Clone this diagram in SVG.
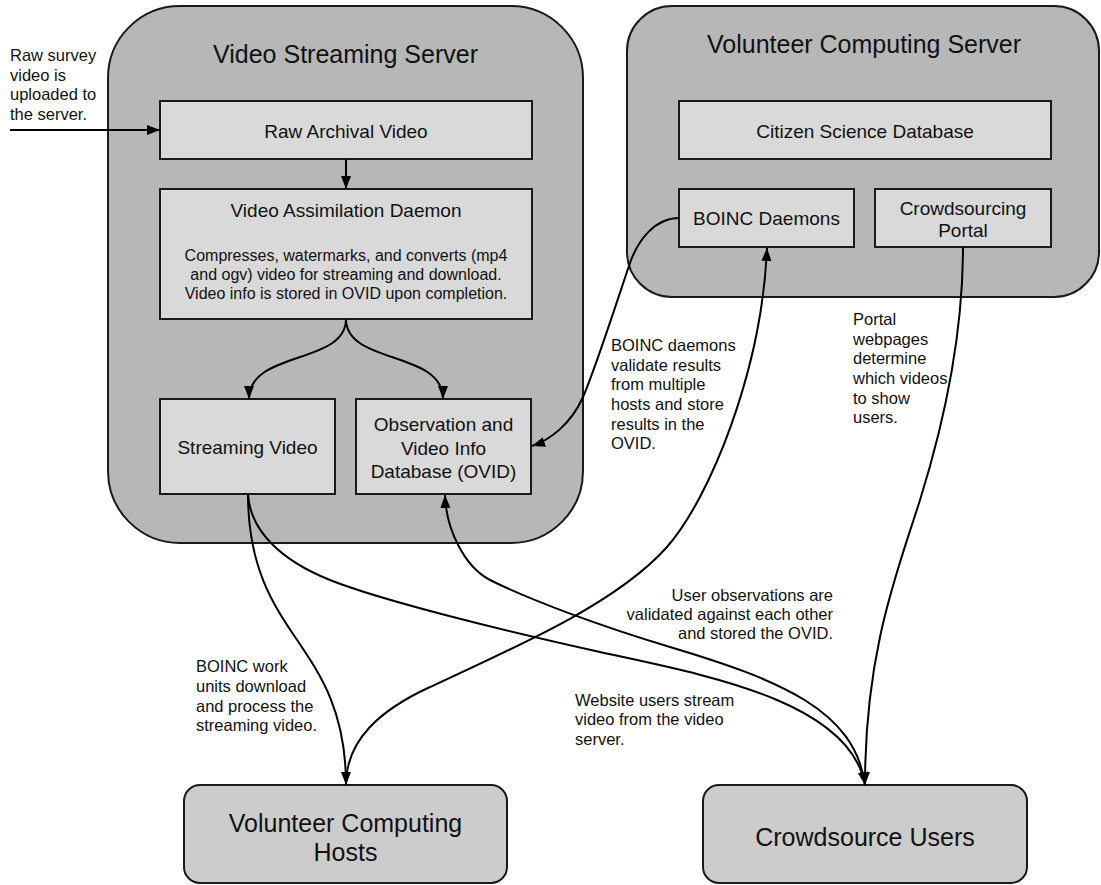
<svg xmlns="http://www.w3.org/2000/svg" width="1101" height="885" viewBox="0 0 1101 885">
<style>
.server{fill:#b7b7b7;stroke:#1a1a1a;stroke-width:2}
.box{fill:#d9d9d9;stroke:#1a1a1a;stroke-width:2}
.ext{fill:#cccccc;stroke:#1a1a1a;stroke-width:2}
.conn{fill:none;stroke:#000;stroke-width:2}
text{font-family:"Liberation Sans",Arial,sans-serif;fill:#111}
.t25{font-size:25px}
.t19{font-size:19px}
.t16{font-size:16px}
.lbl{font-size:16.5px}
.c{text-anchor:middle}
.r{text-anchor:end}
</style>
<defs>
<marker id="arr" markerUnits="userSpaceOnUse" markerWidth="14" markerHeight="12" refX="13" refY="6" orient="auto">
<path d="M0,1 L13,6 L0,11 z" fill="#000"/>
</marker>
</defs>
<rect width="1101" height="885" fill="#fff"/>
<g id="video-streaming-server">
<rect class="server" x="108" y="6" width="475" height="537" rx="72"/>
<text class="t25 c" x="345.5" y="63">Video Streaming Server</text>
</g>
<g id="volunteer-computing-server">
<rect class="server" x="627" y="6" width="472" height="291" rx="45"/>
<text class="t25 c" x="864" y="53">Volunteer Computing Server</text>
</g>
<g id="raw-archival-video">
<rect class="box" x="160" y="101" width="372" height="58"/>
<text class="t19 c" x="346" y="138">Raw Archival Video</text>
</g>
<g id="video-assimilation-daemon">
<rect class="box" x="160" y="189" width="372" height="130"/>
<text class="t19 c" x="346" y="217">Video Assimilation Daemon</text>
<text class="t16 c" x="346" y="261">Compresses, watermarks, and converts (mp4</text>
<text class="t16 c" x="346" y="280">and ogv) video for streaming and download.</text>
<text class="t16 c" x="346" y="299">Video info is stored in OVID upon completion.</text>
</g>
<g id="streaming-video">
<rect class="box" x="160" y="399" width="175" height="95"/>
<text class="t19 c" x="247.5" y="454">Streaming Video</text>
</g>
<g id="ovid">
<rect class="box" x="356" y="399" width="175" height="95"/>
<text class="t19 c" x="443.5" y="431">Observation and</text>
<text class="t19 c" x="443.5" y="455">Video Info</text>
<text class="t19 c" x="443.5" y="478">Database (OVID)</text>
</g>
<g id="citizen-science-database">
<rect class="box" x="679" y="101" width="372" height="58"/>
<text class="t19 c" x="865" y="138">Citizen Science Database</text>
</g>
<g id="boinc-daemons">
<rect class="box" x="679" y="189" width="175" height="58"/>
<text class="t19 c" x="766.5" y="225">BOINC Daemons</text>
</g>
<g id="crowdsourcing-portal">
<rect class="box" x="875" y="189" width="176" height="58"/>
<text class="t19 c" x="963" y="215">Crowdsourcing</text>
<text class="t19 c" x="963" y="237">Portal</text>
</g>
<g id="volunteer-computing-hosts">
<rect class="ext" x="184" y="785" width="323" height="98" rx="16"/>
<text class="t25 c" x="345.5" y="832">Volunteer Computing</text>
<text class="t25 c" x="345.5" y="861">Hosts</text>
</g>
<g id="crowdsource-users">
<rect class="ext" x="703" y="785" width="324" height="98" rx="16"/>
<text class="t25 c" x="865" y="846">Crowdsource Users</text>
</g>
<g id="connectors">
<path class="conn" d="M10,130 L160,130" marker-end="url(#arr)"/>
<path class="conn" d="M346,159 L346,189" marker-end="url(#arr)"/>
<path class="conn" d="M346,319 C346,365 249,350 249,399" marker-end="url(#arr)"/>
<path class="conn" d="M346,319 C346,365 443,350 443,399" marker-end="url(#arr)"/>
<path class="conn" d="M679,218 C655,218 638,240 630,263 C622,286 595,370 583,397 C571,424 550,440 532,446" marker-end="url(#arr)"/>
<path class="conn" d="M248,494 C248,640 346,640 346,785" marker-end="url(#arr)"/>
<path class="conn" d="M248,494 C250,530 280,560 330,580 C380,600 500,630 600,652 C700,674 850,700 865,785" marker-end="url(#arr)"/>
<path class="conn" d="M865,785 C855,710 780,680 670,647 C600,626 530,600 490,580 C465,567 446,530 445,495" marker-end="url(#arr)"/>
<path class="conn" d="M346,785 C346,740 380,710 430,687 C530,641 620,600 667,547 C710,498 762,370 767,248" marker-end="url(#arr)"/>
<path class="conn" d="M963,247 C963,330 945,420 920,500 C898,570 865,650 865,785" marker-end="url(#arr)"/>
</g>
<g id="labels">
<text class="lbl" x="10" y="61">Raw survey</text>
<text class="lbl" x="10" y="80.5">video is</text>
<text class="lbl" x="10" y="100">uploaded to</text>
<text class="lbl" x="10" y="120">the server.</text>
<text class="lbl" x="611" y="351">BOINC daemons</text>
<text class="lbl" x="611" y="371">validate results</text>
<text class="lbl" x="611" y="390">from multiple</text>
<text class="lbl" x="611" y="410">hosts and store</text>
<text class="lbl" x="611" y="430">results in the</text>
<text class="lbl" x="611" y="449">OVID.</text>
<text class="lbl" x="853" y="325">Portal</text>
<text class="lbl" x="853" y="345">webpages</text>
<text class="lbl" x="853" y="364">determine</text>
<text class="lbl" x="853" y="384">which videos</text>
<text class="lbl" x="853" y="404">to show</text>
<text class="lbl" x="853" y="423">users.</text>
<text class="lbl r" x="833" y="601">User observations are</text>
<text class="lbl r" x="833" y="620">validated against each other</text>
<text class="lbl r" x="833" y="639">and stored the OVID.</text>
<text class="lbl" x="575" y="706">Website users stream</text>
<text class="lbl" x="575" y="725">video from the video</text>
<text class="lbl" x="575" y="745">server.</text>
<text class="lbl" x="196" y="672">BOINC work</text>
<text class="lbl" x="196" y="692">units download</text>
<text class="lbl" x="196" y="712">and process the</text>
<text class="lbl" x="196" y="731">streaming video.</text>
</g>
</svg>
